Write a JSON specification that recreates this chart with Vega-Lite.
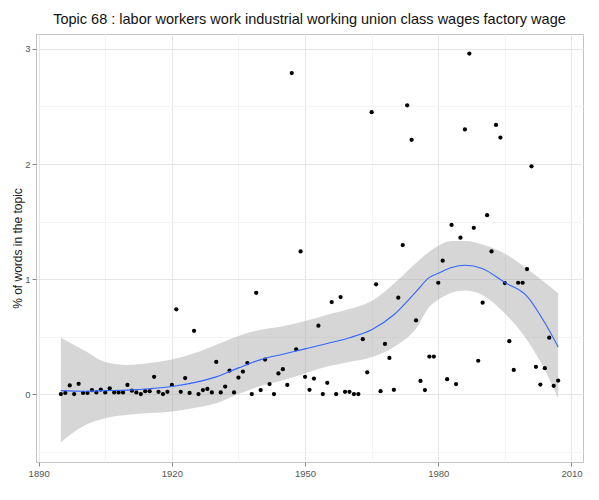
{
  "$schema": "https://vega.github.io/schema/vega-lite/v6.json",
  "width": 547,
  "height": 428,
  "autosize": "none",
  "padding": {"left": 36, "top": 34, "right": 16, "bottom": 38},
  "background": "white",
  "config": {
    "font": "Liberation Sans",
    "view": {"stroke": "#c4c4c4", "strokeWidth": 1},
    "axis": {
      "domain": false,
      "labelColor": "#555555",
      "labelFontSize": 9.5,
      "labelOverlap": false,
      "labelBound": false,
      "tickColor": "#888888",
      "tickSize": 4,
      "titleColor": "#1a1a1a",
      "titleFontWeight": "normal",
      "titleFontSize": 12
    },
    "title": {"fontSize": 14.5, "fontWeight": "normal", "color": "#111111", "offset": 7}
  },
  "title": {"text": "Topic 68 : labor workers work industrial working union class wages factory wage", "anchor": "middle"},
  "datasets": {
    "pts": [
      {"year": 1895, "pct": 0}, {"year": 1896, "pct": 0.01}, {"year": 1897, "pct": 0.075}, {"year": 1898, "pct": 0},
      {"year": 1899, "pct": 0.09}, {"year": 1900, "pct": 0.01}, {"year": 1901, "pct": 0.01}, {"year": 1902, "pct": 0.035},
      {"year": 1903, "pct": 0.015}, {"year": 1904, "pct": 0.04}, {"year": 1905, "pct": 0.015}, {"year": 1906, "pct": 0.05},
      {"year": 1907, "pct": 0.015}, {"year": 1908, "pct": 0.015}, {"year": 1909, "pct": 0.015}, {"year": 1910, "pct": 0.08},
      {"year": 1911, "pct": 0.03}, {"year": 1912, "pct": 0.015}, {"year": 1913, "pct": 0}, {"year": 1914, "pct": 0.025},
      {"year": 1915, "pct": 0.025}, {"year": 1916, "pct": 0.15}, {"year": 1917, "pct": 0.02}, {"year": 1918, "pct": 0},
      {"year": 1919, "pct": 0.02}, {"year": 1920, "pct": 0.08}, {"year": 1921, "pct": 0.737}, {"year": 1922, "pct": 0.02},
      {"year": 1923, "pct": 0.14}, {"year": 1924, "pct": 0.01}, {"year": 1925, "pct": 0.55}, {"year": 1926, "pct": 0},
      {"year": 1927, "pct": 0.035}, {"year": 1928, "pct": 0.045}, {"year": 1929, "pct": 0.015}, {"year": 1930, "pct": 0.28},
      {"year": 1931, "pct": 0.015}, {"year": 1932, "pct": 0.066}, {"year": 1933, "pct": 0.205}, {"year": 1934, "pct": 0.015},
      {"year": 1935, "pct": 0.144}, {"year": 1936, "pct": 0.196}, {"year": 1937, "pct": 0.27}, {"year": 1938, "pct": 0},
      {"year": 1939, "pct": 0.88}, {"year": 1940, "pct": 0.035}, {"year": 1941, "pct": 0.3}, {"year": 1942, "pct": 0.087},
      {"year": 1943, "pct": 0}, {"year": 1944, "pct": 0.18}, {"year": 1945, "pct": 0.217}, {"year": 1946, "pct": 0.08},
      {"year": 1947, "pct": 2.79}, {"year": 1948, "pct": 0.39}, {"year": 1949, "pct": 1.24}, {"year": 1950, "pct": 0.15},
      {"year": 1951, "pct": 0.037}, {"year": 1952, "pct": 0.135}, {"year": 1953, "pct": 0.595}, {"year": 1954, "pct": 0},
      {"year": 1955, "pct": 0.098}, {"year": 1956, "pct": 0.8}, {"year": 1957, "pct": 0}, {"year": 1958, "pct": 0.844},
      {"year": 1959, "pct": 0.02}, {"year": 1960, "pct": 0.02}, {"year": 1961, "pct": 0}, {"year": 1962, "pct": 0},
      {"year": 1963, "pct": 0.477}, {"year": 1964, "pct": 0.19}, {"year": 1965, "pct": 2.45}, {"year": 1966, "pct": 0.954},
      {"year": 1967, "pct": 0.025}, {"year": 1968, "pct": 0.436}, {"year": 1969, "pct": 0.315}, {"year": 1970, "pct": 0.037},
      {"year": 1971, "pct": 0.838}, {"year": 1972, "pct": 1.295}, {"year": 1973, "pct": 2.51}, {"year": 1974, "pct": 2.21},
      {"year": 1975, "pct": 0.64}, {"year": 1976, "pct": 0.115}, {"year": 1977, "pct": 0.035}, {"year": 1978, "pct": 0.326},
      {"year": 1979, "pct": 0.326}, {"year": 1980, "pct": 0.968}, {"year": 1981, "pct": 1.16}, {"year": 1982, "pct": 0.13},
      {"year": 1983, "pct": 1.47}, {"year": 1984, "pct": 0.087}, {"year": 1985, "pct": 1.36}, {"year": 1986, "pct": 2.3},
      {"year": 1987, "pct": 2.96}, {"year": 1988, "pct": 1.445}, {"year": 1989, "pct": 0.29}, {"year": 1990, "pct": 0.795},
      {"year": 1991, "pct": 1.555}, {"year": 1992, "pct": 1.24}, {"year": 1993, "pct": 2.34}, {"year": 1994, "pct": 2.23},
      {"year": 1995, "pct": 0.965}, {"year": 1996, "pct": 0.46}, {"year": 1997, "pct": 0.21}, {"year": 1998, "pct": 0.968},
      {"year": 1999, "pct": 0.968}, {"year": 2000, "pct": 1.087}, {"year": 2001, "pct": 1.98}, {"year": 2002, "pct": 0.237},
      {"year": 2003, "pct": 0.083}, {"year": 2004, "pct": 0.225}, {"year": 2005, "pct": 0.49}, {"year": 2006, "pct": 0.072},
      {"year": 2007, "pct": 0.118}
    ],
    "fit": [
      {"year": 1895, "fit": 0.03, "lo": -0.42, "hi": 0.49},
      {"year": 1900, "fit": 0.025, "lo": -0.28, "hi": 0.385},
      {"year": 1905, "fit": 0.03, "lo": -0.21, "hi": 0.28},
      {"year": 1910, "fit": 0.035, "lo": -0.18, "hi": 0.254},
      {"year": 1915, "fit": 0.047, "lo": -0.165, "hi": 0.27},
      {"year": 1920, "fit": 0.066, "lo": -0.15, "hi": 0.3},
      {"year": 1925, "fit": 0.1, "lo": -0.12, "hi": 0.355},
      {"year": 1930, "fit": 0.15, "lo": -0.08, "hi": 0.43},
      {"year": 1935, "fit": 0.228, "lo": 0.0, "hi": 0.506},
      {"year": 1940, "fit": 0.3, "lo": 0.07, "hi": 0.56},
      {"year": 1945, "fit": 0.347, "lo": 0.12, "hi": 0.59},
      {"year": 1950, "fit": 0.393, "lo": 0.18, "hi": 0.636},
      {"year": 1955, "fit": 0.44, "lo": 0.24, "hi": 0.69},
      {"year": 1960, "fit": 0.49, "lo": 0.28, "hi": 0.74},
      {"year": 1965, "fit": 0.56, "lo": 0.32, "hi": 0.81},
      {"year": 1970, "fit": 0.69, "lo": 0.41, "hi": 0.96},
      {"year": 1975, "fit": 0.89, "lo": 0.57, "hi": 1.14},
      {"year": 1978, "fit": 1.015, "lo": 0.76, "hi": 1.24},
      {"year": 1980, "fit": 1.05, "lo": 0.82, "hi": 1.29},
      {"year": 1983, "fit": 1.1, "lo": 0.88, "hi": 1.33},
      {"year": 1986, "fit": 1.12, "lo": 0.9, "hi": 1.33},
      {"year": 1990, "fit": 1.09, "lo": 0.86, "hi": 1.3},
      {"year": 1995, "fit": 0.97, "lo": 0.7, "hi": 1.22},
      {"year": 2000, "fit": 0.85, "lo": 0.47, "hi": 1.09},
      {"year": 2004, "fit": 0.62, "lo": 0.21, "hi": 0.97},
      {"year": 2007, "fit": 0.41, "lo": -0.035, "hi": 0.876}
    ]
  },
  "layer": [
    {
      "data": {"name": "fit"},
      "mark": {"type": "area", "color": "#999999", "opacity": 0.4, "interpolate": "monotone"},
      "encoding": {
        "x": {
          "field": "year", "type": "quantitative",
          "scale": {"domain": [1889.4, 2012.6], "nice": false, "zero": false},
          "axis": {
            "title": null,
            "values": [1890, 1905, 1920, 1935, 1950, 1965, 1980, 1995, 2010],
            "labelExpr": "datum.value % 30 === 0 ? format(datum.value, 'd') : ''",
            "labelPadding": 2,
            "gridColor": {"condition": {"test": "datum.value % 30 === 0", "value": "#e6e6e6"}, "value": "#f4f4f4"},
            "tickOpacity": {"condition": {"test": "datum.value % 30 === 0", "value": 1}, "value": 0}
          }
        },
        "y": {
          "field": "lo", "type": "quantitative",
          "scale": {"domain": [-0.59, 3.13], "nice": false, "zero": false},
          "axis": {
            "title": "% of words in the topic",
            "values": [-0.5, 0, 0.5, 1, 1.5, 2, 2.5, 3],
            "labelExpr": "datum.value % 1 === 0 ? format(datum.value, 'd') : ''",
            "labelPadding": 2,
            "titlePadding": 0,
            "gridColor": {"condition": {"test": "datum.value % 1 === 0", "value": "#e6e6e6"}, "value": "#f4f4f4"},
            "tickOpacity": {"condition": {"test": "datum.value % 1 === 0", "value": 1}, "value": 0}
          }
        },
        "y2": {"field": "hi"}
      }
    },
    {
      "data": {"name": "pts"},
      "mark": {"type": "circle", "color": "black", "opacity": 1, "size": 18},
      "encoding": {
        "x": {"field": "year", "type": "quantitative"},
        "y": {"field": "pct", "type": "quantitative"}
      }
    },
    {
      "data": {"name": "fit"},
      "mark": {"type": "line", "color": "#3366FF", "strokeWidth": 1.1, "interpolate": "monotone"},
      "encoding": {
        "x": {"field": "year", "type": "quantitative"},
        "y": {"field": "fit", "type": "quantitative"}
      }
    }
  ]
}
